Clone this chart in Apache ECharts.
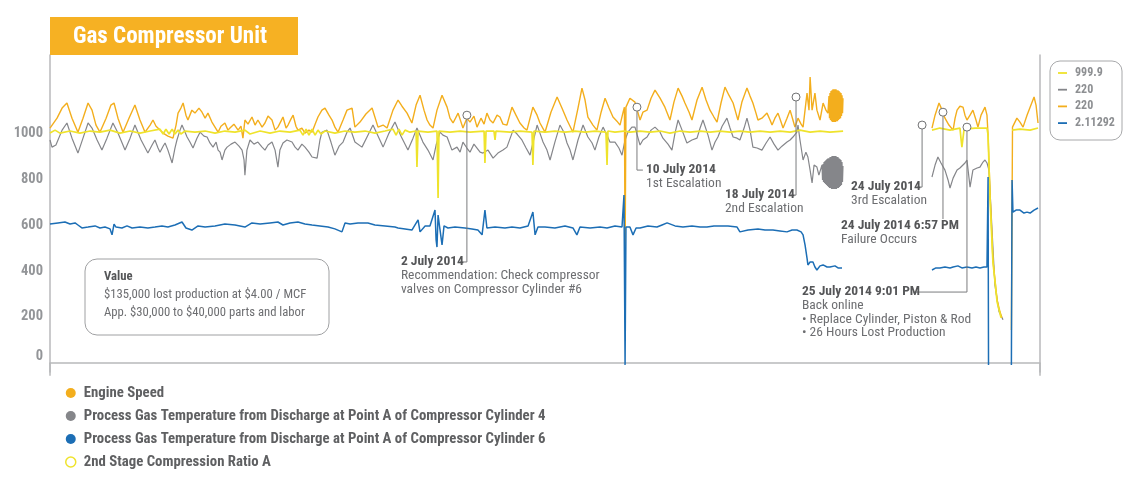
<!DOCTYPE html>
<html><head><meta charset="utf-8">
<script src="https://cdn.jsdelivr.net/npm/echarts@6/dist/echarts.min.js"></script>
<style>html,body{margin:0;padding:0;background:#fff}#c{width:1140px;height:498px}</style>
</head><body><div id="c"></div>
<script>
// x = days since start of the record, y = displayed value
const engineSpeed = [[0,1022],[0.32,1065],[0.55,1109],[0.77,1131],[1.00,1065],[1.27,1004],[1.50,1065],[1.73,1131],[1.91,1100],[2.09,1035],[2.27,1004],[2.55,1065],[2.77,1122],[2.91,1131],[3.09,1065],[3.32,1004],[3.59,1065],[3.86,1122],[4.09,1057],[4.32,1004],[4.55,1035],[4.68,1057],[4.82,1030],[5.00,1013],[5.14,1000],[5.36,987],[5.59,978],[5.73,1035],[5.82,1087],[5.95,1109],[6.05,1131],[6.18,1078],[6.27,1057],[6.45,1100],[6.59,1087],[6.77,1109],[6.91,1091],[7.05,1065],[7.18,1087],[7.36,1048],[7.50,1026],[7.64,1004],[7.77,1030],[7.95,1044],[8.09,1013],[8.18,1022],[8.36,1039],[8.55,1013],[8.68,1030],[8.77,978],[8.86,1057],[9.00,1039],[9.18,1070],[9.32,1035],[9.45,1057],[9.64,1026],[9.77,1044],[9.91,1074],[10.09,1057],[10.23,1013],[10.36,1026],[10.50,1052],[10.59,1070],[10.73,1022],[10.82,1035],[10.95,1061],[11.05,1078],[11.18,1030],[11.27,1013],[11.45,1022],[11.59,1000],[11.77,1013],[11.91,1004],[12.05,1039],[12.18,1070],[12.36,1100],[12.50,1109],[12.68,1078],[12.82,1057],[12.95,1026],[13.09,1004],[13.32,1057],[13.50,1100],[13.73,1109],[13.86,1026],[14.09,1048],[14.36,1083],[14.64,1109],[14.91,1026],[15.14,1035],[15.32,1022],[15.59,1100],[15.82,1144],[16.00,1117],[16.23,1087],[16.45,1044],[16.64,1122],[16.82,1165],[17.00,1100],[17.14,1057],[17.27,1035],[17.41,1022],[17.59,1100],[17.82,1165],[18.05,1113],[18.18,1065],[18.32,1044],[18.55,1087],[18.77,1022],[18.95,1065],[19.09,1048],[19.27,1074],[19.41,1026],[19.59,1065],[19.73,1039],[19.86,1087],[20.00,1057],[20.14,1044],[20.32,1078],[20.45,1070],[20.59,1039],[20.77,1035],[21.00,1113],[21.18,1078],[21.36,1044],[21.55,1022],[21.68,1013],[21.82,1065],[21.95,1113],[22.14,1078],[22.27,1044],[22.50,1004],[22.77,1091],[23.05,1157],[23.27,1109],[23.50,1057],[23.77,1004],[24.00,1109],[24.18,1196],[24.32,1144],[24.45,1070],[24.68,1035],[24.86,1013],[25.05,1091],[25.23,1152],[25.41,1109],[25.59,1070],[25.77,1052],[25.91,1035],[26.05,1091],[26.11,1113],[26.14,439],[26.18,1113],[26.36,1152],[26.59,1135],[26.82,1057],[26.95,1091],[27.14,1100],[27.32,1152],[27.50,1187],[27.73,1152],[27.95,1113],[28.18,1057],[28.36,1135],[28.55,1196],[28.73,1161],[28.86,1131],[29.05,1091],[29.18,1057],[29.41,1144],[29.64,1200],[29.82,1144],[30.00,1100],[30.18,1070],[30.32,1048],[30.50,1131],[30.68,1200],[30.86,1165],[31.05,1131],[31.18,1087],[31.27,1057],[31.45,1135],[31.68,1196],[31.82,1161],[31.95,1131],[32.09,1087],[32.18,1057],[32.36,1065],[32.59,1087],[32.73,1057],[32.82,1035],[32.95,1065],[33.09,1087],[33.23,1048],[33.32,1022],[33.50,1065],[33.64,1100],[33.77,1057],[33.86,1026],[34.00,1065],[34.14,1039],[34.23,1026],[34.32,1100],[34.41,1174],[34.50,1100],[34.55,1244],[34.64,1100],[34.77,1174],[34.86,1100],[35.00,1057],[35.14,1131],[35.27,1100],[35.36,1087],[35.409,1161],[35.432,1065],[35.455,1174],[35.477,1057],[35.5,1183],[35.523,1052],[35.545,1187],[35.568,1048],[35.591,1191],[35.614,1048],[35.636,1191],[35.659,1048],[35.682,1191],[35.705,1048],[35.727,1191],[35.75,1052],[35.773,1187],[35.795,1052],[35.818,1187],[35.841,1057],[35.864,1183],[35.886,1061],[35.909,1178],[35.932,1065],[35.955,1174],[35.977,1074],[36.0,1165],[36.023,1087],[36.045,1152],[38,null],[40.09,1022],[40.23,1078],[40.41,1131],[40.55,1100],[40.68,1065],[40.86,1035],[41.05,1013],[41.14,1065],[41.23,1100],[41.36,1117],[41.50,1113],[41.59,1078],[41.68,1057],[41.82,1078],[41.95,1100],[42.09,1057],[42.18,1026],[42.32,1078],[42.50,1113],[42.59,1078],[42.64,991],[42.73,739],[42.86,448],[43.05,274],[43.18,222],[43.27,196],[43.5,null],[43.70,143],[43.75,1026],[43.95,1065],[44.09,1048],[44.23,1026],[44.41,1078],[44.55,1113],[44.73,1157],[44.82,1122],[44.91,1044]];

const cylinder4Temp = [[0,970],[0.09,939],[0.27,948],[0.55,1013],[0.77,1044],[1.00,978],[1.27,913],[1.50,978],[1.73,1044],[1.91,1022],[2.14,970],[2.36,926],[2.59,978],[2.86,1044],[3.09,1000],[3.41,926],[3.64,978],[3.86,1035],[4.14,970],[4.45,913],[4.64,948],[4.77,970],[4.91,935],[5.00,917],[5.14,943],[5.23,957],[5.36,926],[5.55,870],[5.68,935],[5.77,970],[5.91,1013],[6.00,1035],[6.14,1004],[6.23,983],[6.36,961],[6.50,935],[6.68,978],[6.82,1004],[7.00,987],[7.14,983],[7.27,957],[7.41,939],[7.55,961],[7.64,926],[7.73,917],[7.82,883],[7.95,926],[8.05,939],[8.23,952],[8.41,961],[8.59,943],[8.73,926],[8.82,883],[8.86,817],[8.95,926],[9.09,970],[9.27,952],[9.45,961],[9.64,939],[9.77,926],[9.91,948],[10.09,961],[10.23,926],[10.36,852],[10.45,926],[10.59,957],[10.77,970],[11.00,961],[11.14,939],[11.27,926],[11.45,952],[11.59,939],[11.77,917],[11.91,896],[12.14,891],[12.27,970],[12.36,1004],[12.59,1013],[12.77,961],[12.95,904],[13.14,943],[13.32,961],[13.50,1004],[13.64,1022],[13.86,961],[14.18,939],[14.45,991],[14.68,1035],[14.91,987],[15.14,939],[15.41,1000],[15.68,1048],[15.95,987],[16.27,926],[16.50,978],[16.68,1022],[16.82,991],[16.95,961],[17.18,926],[17.41,883],[17.55,948],[17.73,1004],[17.86,991],[18.05,983],[18.27,926],[18.50,939],[18.64,917],[18.77,961],[18.95,935],[19.09,917],[19.27,952],[19.41,935],[19.55,917],[19.68,913],[19.91,926],[20.14,891],[20.36,913],[20.59,926],[20.77,939],[21.05,1013],[21.23,996],[21.45,970],[21.64,935],[21.82,904],[22.14,1035],[22.27,1000],[22.41,961],[22.59,926],[22.73,883],[22.95,961],[23.18,1035],[23.36,1004],[23.50,957],[23.64,926],[23.77,883],[24.00,970],[24.23,1035],[24.45,983],[24.64,957],[24.77,926],[24.95,983],[25.14,1026],[25.32,991],[25.45,961],[25.68,961],[25.86,935],[26.00,904],[26.14,970],[26.27,1004],[26.45,1026],[26.59,1026],[26.82,948],[26.95,970],[27.14,983],[27.32,1013],[27.50,1026],[27.73,1004],[27.86,978],[28.09,952],[28.27,926],[28.41,1000],[28.55,1057],[28.73,1013],[28.95,957],[29.18,970],[29.41,978],[29.55,1022],[29.68,1057],[29.91,991],[30.09,926],[30.23,961],[30.36,983],[30.55,1030],[30.77,1065],[30.91,1022],[31.05,983],[31.23,978],[31.36,970],[31.55,1022],[31.68,1065],[31.82,1013],[31.95,939],[32.14,935],[32.36,926],[32.55,957],[32.73,983],[32.91,952],[33.09,926],[33.27,943],[33.50,961],[33.64,970],[33.77,983],[33.95,1004],[34.00,1035],[34.09,970],[34.23,883],[34.36,917],[34.45,896],[34.55,839],[34.64,783],[34.73,861],[34.86,852],[34.95,817],[35.091,861],[35.114,796],[35.136,865],[35.159,787],[35.182,874],[35.205,783],[35.227,878],[35.25,778],[35.273,883],[35.295,774],[35.318,887],[35.341,770],[35.364,891],[35.386,765],[35.409,891],[35.432,761],[35.455,896],[35.477,761],[35.5,896],[35.523,757],[35.545,900],[35.568,757],[35.591,900],[35.614,757],[35.636,900],[35.659,757],[35.682,900],[35.705,757],[35.727,900],[35.75,757],[35.773,896],[35.795,761],[35.818,896],[35.841,761],[35.864,891],[35.886,765],[35.909,887],[35.932,770],[35.955,883],[35.977,774],[36.0,874],[36.023,787],[36.045,857],[38,null],[40.09,809],[40.23,861],[40.36,896],[40.50,870],[40.68,839],[40.82,796],[40.91,761],[41.05,804],[41.23,839],[41.36,848],[41.45,852],[41.59,870],[41.68,883],[41.82,765],[41.95,839],[42.14,848],[42.27,852],[42.41,874],[42.50,883],[42.59,870],[42.68,839],[42.82,578],[42.95,339],[43.14,222],[43.32,187]];

const cylinder6Temp = [[0,604],[0.09,600],[0.36,609],[0.68,613],[0.91,604],[1.14,609],[1.27,600],[1.45,587],[1.73,591],[2.05,596],[2.27,587],[2.50,591],[2.73,583],[2.82,557],[2.91,604],[3.00,591],[3.27,587],[3.50,596],[3.73,587],[4.09,591],[4.45,587],[4.77,591],[5.09,596],[5.36,591],[5.68,600],[6.00,613],[6.18,587],[6.45,578],[6.73,596],[7.05,591],[7.50,596],[7.95,604],[8.41,600],[8.86,591],[9.18,609],[9.55,604],[10.00,609],[10.36,613],[10.59,600],[10.91,609],[11.27,613],[11.59,604],[11.91,600],[12.27,596],[12.64,591],[12.95,583],[13.27,570],[13.41,609],[13.64,604],[14.00,609],[14.45,609],[14.77,600],[15.23,596],[15.68,591],[15.82,587],[16.14,583],[16.45,578],[16.73,622],[16.82,570],[17.05,596],[17.27,596],[17.50,665],[17.55,535],[17.59,504],[17.64,643],[17.73,578],[17.82,513],[17.91,596],[18.09,587],[18.41,591],[18.86,587],[19.18,583],[19.45,578],[19.64,557],[19.77,665],[19.86,587],[20.23,591],[20.68,587],[21.00,591],[21.36,587],[21.73,596],[21.95,656],[22.05,557],[22.18,591],[22.50,591],[22.95,587],[23.41,596],[23.77,587],[23.95,557],[24.09,591],[24.55,587],[25.00,591],[25.32,587],[25.68,596],[26.00,591],[26.09,730],[26.14,-9],[26.18,591],[26.36,591],[26.50,557],[26.64,587],[26.82,587],[27.18,596],[27.59,591],[27.82,600],[28.05,609],[28.41,596],[28.77,591],[29.18,596],[29.55,591],[29.86,591],[30.18,596],[30.45,596],[30.82,596],[31.23,591],[31.36,570],[31.73,578],[32.18,583],[32.50,578],[32.86,578],[33.18,574],[33.50,570],[33.73,578],[33.95,578],[34.14,570],[34.23,557],[34.32,513],[34.41,456],[34.45,426],[34.55,439],[34.68,439],[34.77,417],[34.86,404],[35.00,422],[35.14,426],[35.32,417],[35.45,417],[35.68,422],[35.82,413],[36.00,413],[38,null],[40.09,404],[40.27,413],[40.45,413],[40.68,417],[40.91,413],[41.05,417],[41.27,422],[41.45,413],[41.68,417],[41.91,413],[42.09,417],[42.27,413],[42.45,417],[42.59,417],[42.64,809],[42.66,-9],[43.2,null],[43.70,-9],[43.73,796],[43.77,656],[43.91,665],[44.09,665],[44.27,652],[44.41,656],[44.55,652],[44.73,665],[44.91,674]];

const compressionRatio = [[0,1000],[0.23,1013],[0.45,1000],[0.91,1009],[1.36,1000],[1.82,1009],[2.27,1004],[2.73,1013],[3.18,1000],[3.64,1009],[4.09,1000],[4.55,1009],[5.00,1017],[5.14,996],[5.27,1017],[5.41,996],[5.55,1017],[5.68,996],[5.82,1013],[5.95,996],[6.14,1009],[6.59,1004],[7.05,1009],[7.50,1000],[7.95,1009],[8.41,1004],[8.86,1013],[9.09,996],[9.55,1009],[10.00,1000],[10.45,1009],[10.91,1004],[11.36,1013],[11.50,991],[11.64,1017],[11.77,991],[11.91,1017],[12.05,991],[12.18,1013],[12.32,996],[12.50,1009],[12.95,1000],[13.41,1009],[13.86,1004],[14.32,1009],[14.77,1000],[15.23,1009],[15.59,1017],[15.73,991],[15.86,1017],[16.00,991],[16.14,1013],[16.36,1004],[16.64,1009],[16.68,852],[16.73,1009],[17.18,1004],[17.59,1009],[17.64,717],[17.68,1009],[18.18,1004],[18.64,1009],[19.09,1004],[19.73,1009],[19.77,870],[19.82,1009],[20.18,1009],[20.23,970],[20.27,1009],[20.91,1004],[21.36,1009],[21.91,1004],[21.95,861],[22.00,1009],[22.50,1004],[22.95,1009],[23.41,1004],[23.86,1009],[24.32,1004],[24.77,1009],[25.27,1004],[25.32,861],[25.36,1009],[25.68,1004],[26.09,1009],[26.36,1004],[26.82,1009],[27.27,1004],[27.73,1009],[28.18,1000],[28.64,1009],[29.09,1004],[29.55,1009],[30.00,1004],[30.45,1009],[30.91,1004],[31.36,1009],[31.82,1004],[32.27,1009],[32.73,1004],[33.18,1009],[33.64,1004],[34.09,1013],[34.55,1004],[35.00,1009],[35.45,1004],[36.05,1009],[38,null],[40.09,1013],[40.45,1022],[40.91,1013],[41.36,1022],[41.45,939],[41.55,1017],[42.05,1022],[42.59,1022],[42.64,991],[42.73,709],[42.86,439],[43.05,265],[43.23,196],[43.5,null],[43.73,1013],[44.09,1017],[44.55,1013],[44.91,1022]];

const yTickValues = [0, 200, 400, 600, 800, 1000];
const seriesNames = ['Engine Speed', 'Process Gas Temperature from Discharge at Point A of Compressor Cylinder 4', 'Process Gas Temperature from Discharge at Point A of Compressor Cylinder 6', '2nd Stage Compression Ratio A'];
const currentValues = ['999.9', '220', '220', '2.11292'];
const titleText = 'Gas Compressor Unit';
const valueNote = ['Value', '$135,000 lost production at $4.00 / MCF', 'App. $30,000 to $40,000 parts and labor'];
const annotations = [
  {at: [18.95, 1078], elbow: 439, lineTo: 18.64, textAt: [15.95, 439], title: '2 July 2014', lines: ['Recommendation: Check compressor', 'valves on Compressor Cylinder #6']},
  {at: [26.68, 1113], elbow: 839, lineTo: 26.95, textAt: [27.09, 839], title: '10 July 2014', lines: ['1st Escalation']},
  {at: [33.91, 1157], elbow: 730, lineTo: 33.64, textAt: [30.68, 730], title: '18 July 2014', lines: ['2nd Escalation']},
  {at: [39.64, 1035], elbow: 765, lineTo: 39.41, textAt: [36.41, 765], title: '24 July 2014', lines: ['3rd Escalation']},
  {at: [40.59, 1091], elbow: 626, lineTo: null, textAt: [35.95, 596], title: '24 July 2014 6:57 PM', lines: ['Failure Occurs']},
  {at: [41.68, 1026], elbow: 308, lineTo: 39.23, textAt: [34.18, 308], title: '25 July 2014 9:01 PM', lines: ['Back online', '• Replace Cylinder, Piston & Rod', '• 26 Hours Lost Production']}
];

const C = {orange: '#F3AE1D', grey: '#85868a', blue: '#1c6eb5', yellow: '#EFE32C', axis: '#b8b9bb', tick: '#939598', dark: '#555658', body: '#6d6e71', title: '#F6B123'};
const NARROW = '"Roboto Condensed", "Open Sans Condensed", sans-serif';

const chart = echarts.init(document.getElementById('c'), null, {renderer: 'canvas'});
const lineSeries = (name, data, color, width, z) => ({
  name, type: 'line', data, symbol: 'none', showSymbol: false, connectNulls: false,
  lineStyle: {color, width}, itemStyle: {color}, z, animation: false, emphasis: {disabled: true}
});

chart.setOption({
  animation: false,
  grid: {left: 50, right: 100, top: 55, bottom: 126},
  xAxis: {type: 'value', min: 0, max: 45,
    axisLine: {show: true, lineStyle: {color: C.axis, width: 1.5}},
    axisTick: {show: true, customValues: [0, 45], length: 13, lineStyle: {color: C.axis, width: 1.5}},
    axisLabel: {show: false}, splitLine: {show: false}},
  yAxis: [{type: 'value', min: -40, max: 1340,
    axisLine: {show: true, lineStyle: {color: C.axis, width: 1.5}},
    axisTick: {show: false}, splitLine: {show: false},
    axisLabel: {customValues: yTickValues, margin: 7, color: C.tick, fontWeight: 'bold', fontSize: 14.5, fontFamily: NARROW,
      formatter: v => v === 0 ? '{z|0}' : String(v),
      rich: {z: {padding: [0, 0, 12, 0], color: C.tick, fontWeight: 'bold', fontSize: 14.5, fontFamily: NARROW}}}},
    {type: 'value', position: 'right', min: 0, max: 1,
    axisLine: {show: true, lineStyle: {color: C.axis, width: 1.5}},
    axisTick: {show: false}, axisLabel: {show: false}, splitLine: {show: false}}],
  legend: {orient: 'vertical', left: 60, top: 380, itemWidth: 10, itemHeight: 10, itemGap: 7, icon: 'circle',
    selectedMode: false,
    textStyle: {color: '#5f6062', fontWeight: 'bold', fontSize: 14.8, fontFamily: NARROW, lineHeight: 16, padding: [0, 0, 0, 3]},
    data: [
      {name: seriesNames[0], itemStyle: {color: C.orange}},
      {name: seriesNames[1], itemStyle: {color: C.grey}},
      {name: seriesNames[2], itemStyle: {color: C.blue}},
      {name: seriesNames[3], itemStyle: {color: '#ffffff', borderColor: C.yellow, borderWidth: 1.5}}
    ]},
  series: [
    lineSeries(seriesNames[1], cylinder4Temp, C.grey, 1.2, 2),
    lineSeries(seriesNames[0], engineSpeed, C.orange, 1.4, 3),
    lineSeries(seriesNames[3], compressionRatio, C.yellow, 1.7, 4),
    lineSeries(seriesNames[2], cylinder6Temp, C.blue, 1.5, 5)
  ]
});

const px = p => chart.convertToPixel({gridIndex: 0}, p);
const g = [];
const txt = (text, x, y, fill, font, z) => ({type: 'text', style: {text, x, y, fill, font, textVerticalAlign: 'middle', verticalAlign: 'middle'}, z: z || 12});
// title box
g.push({type: 'rect', shape: {x: 50, y: 17, width: 248, height: 38}, style: {fill: C.title}, z: 10});
g.push(txt(titleText, 73, 37, '#fff', 'bold 23px ' + NARROW, 11));
// current-value legend box (top right)
g.push({type: 'rect', shape: {x: 1050, y: 61, width: 72, height: 79, r: 10}, style: {fill: '#fff', stroke: '#a7a8aa', lineWidth: 1}, z: 10});
const cvColors = [C.yellow, C.grey, C.orange, C.blue];
currentValues.forEach((v, i) => {
  const y = 73 + i * 16.7;
  g.push({type: 'line', shape: {x1: 1058, y1: y, x2: 1067, y2: y}, style: {stroke: cvColors[i], lineWidth: 1.8}, z: 11});
  g.push(txt(v, 1075, y, '#8d8f92', 'bold 12px ' + NARROW, 11));
});
// value note box
g.push({type: 'rect', shape: {x: 85, y: 259, width: 244, height: 76, r: 12}, style: {fill: '#fff', stroke: '#9fa0a2', lineWidth: 1}, z: 10});
valueNote.forEach((t, i) => {
  g.push(txt(t, 104, 277 + i * 18, i === 0 ? C.dark : C.body, (i === 0 ? 'bold ' : '') + '12.7px ' + NARROW, 11));
});
// annotations
annotations.forEach(a => {
  const c = px(a.at);
  const e = px([a.at[0], a.elbow]);
  g.push({type: 'line', shape: {x1: c[0], y1: c[1] + 4, x2: e[0], y2: e[1]}, style: {stroke: '#7b7c7e', lineWidth: 1}, z: 12});
  if (a.lineTo !== null) {
    const h = px([a.lineTo, a.elbow]);
    g.push({type: 'line', shape: {x1: e[0], y1: e[1], x2: h[0], y2: h[1]}, style: {stroke: '#7b7c7e', lineWidth: 1}, z: 12});
  }
  g.push({type: 'circle', shape: {cx: c[0], cy: c[1], r: 4}, style: {fill: '#fff', stroke: '#6f7072', lineWidth: 1}, z: 13});
  const t = px(a.textAt);
  g.push(txt(a.title, t[0], t[1], C.dark, 'bold 13.5px ' + NARROW));
  a.lines.forEach((l, i) => {
    g.push(txt(l, t[0], t[1] + 14 + i * 13.5, C.body, '13.5px ' + NARROW));
  });
});
chart.setOption({graphic: {elements: g}});
</script>
</body></html>
